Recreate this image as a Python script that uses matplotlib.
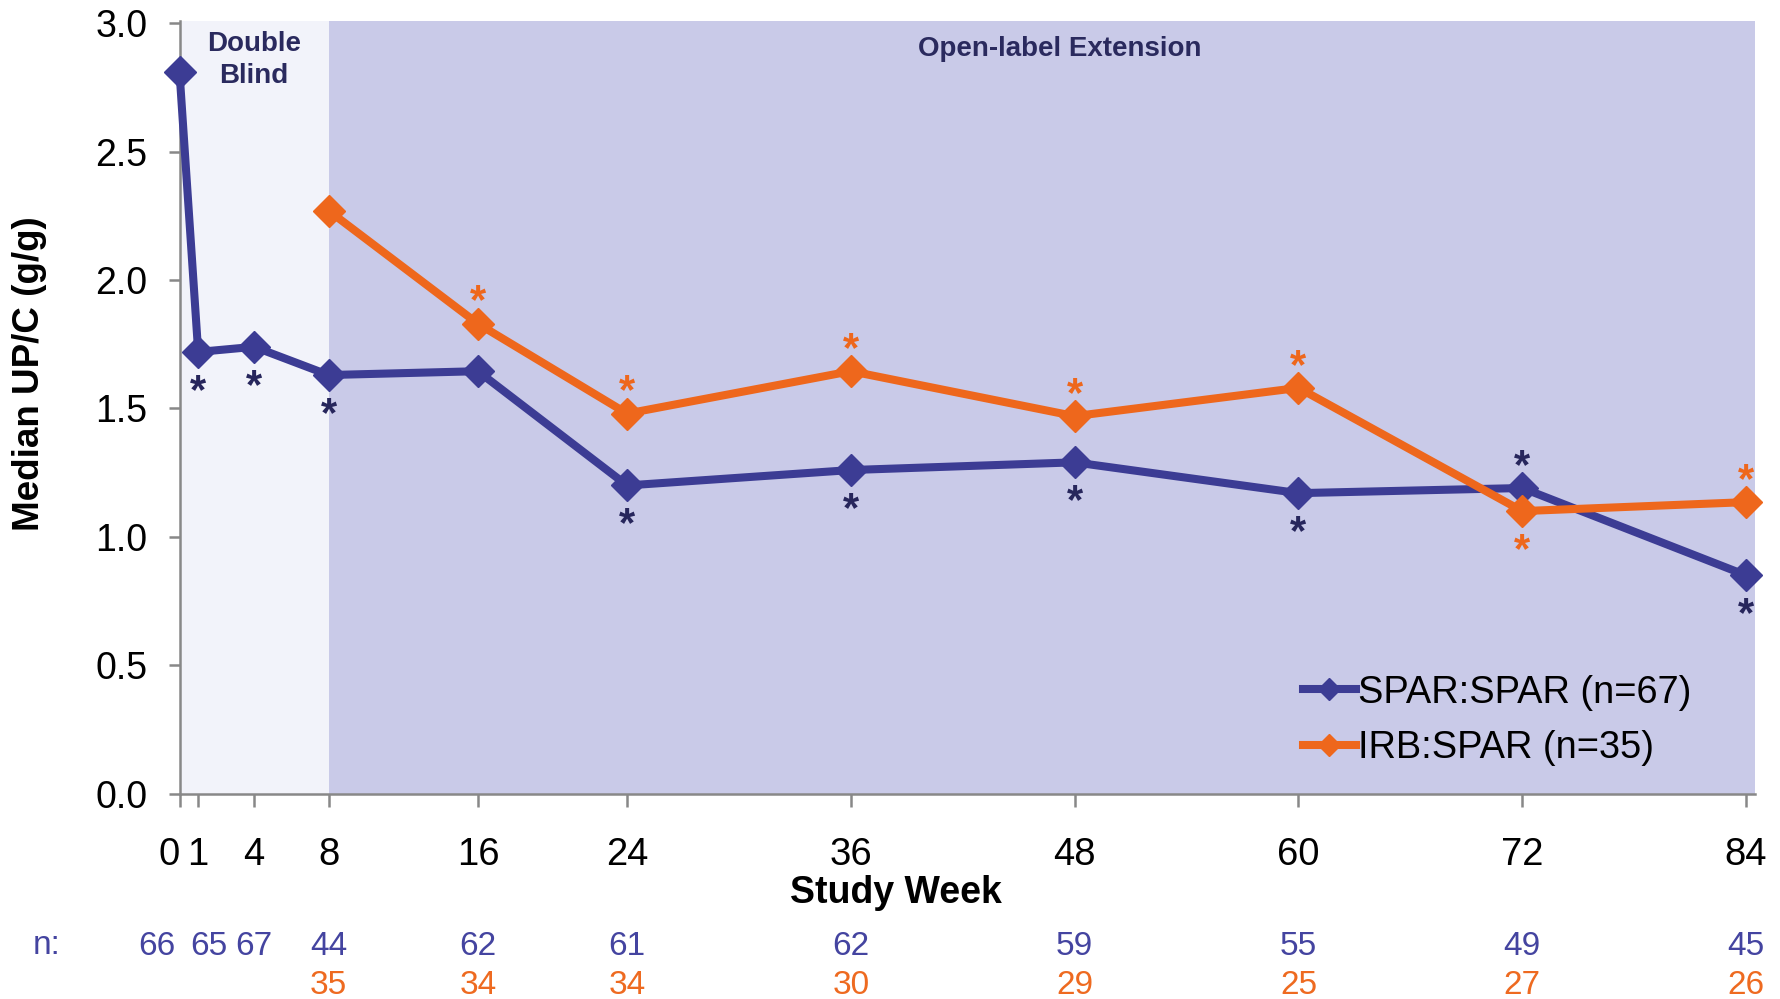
import matplotlib
matplotlib.use("Agg")
import matplotlib.pyplot as plt

plt.rcParams['font.family'] = ['Liberation Sans', 'DejaVu Sans']

# study weeks and median UP/C for each arm
weeks = [0, 1, 4, 8, 16, 24, 36, 48, 60, 72, 84]
spar_upc = [2.81, 1.72, 1.74, 1.63, 1.645, 1.20, 1.26, 1.29, 1.17, 1.19, 0.85]
irb_weeks = [8, 16, 24, 36, 48, 60, 72, 84]
irb_upc = [2.27, 1.83, 1.48, 1.645, 1.47, 1.58, 1.10, 1.135]

# significance marks: -1 below the point, 1 above, 0 none
spar_stars = [0, -1, -1, -1, 0, -1, -1, -1, -1, 1, -1]
irb_stars = [0, 1, 1, 1, 1, 1, -1, 1]

# patients per visit
spar_n = [66, 65, 67, 44, 62, 61, 62, 59, 55, 49, 45]
irb_n = [35, 34, 34, 30, 29, 25, 27, 26]

tick_labels = ['0', '1', '4', '8', '16', '24', '36', '48', '60', '72', '84']

blue = '#3c3c94'
orange = '#ee671c'
navy = '#27265c'

fig = plt.figure(figsize=(17.81, 9.99), dpi=100)
ax = fig.add_axes([0.1008, 0.2057, 0.8846, 0.7735])

ax.axvspan(0, 8, color='#f2f3fa', zorder=0, lw=0)
ax.axvspan(8, 84.48, color='#c9cae8', zorder=0, lw=0)

ax.plot(weeks, spar_upc, color=blue, lw=5.8, marker='D', ms=16,
        label='SPAR:SPAR (n=67)', zorder=3, clip_on=False)
ax.plot(irb_weeks, irb_upc, color=orange, lw=5.8, marker='D', ms=16,
        label='IRB:SPAR (n=35)', zorder=3, clip_on=False)

def stars(xs, ys, sides, color):
    for x, y, s in zip(xs, ys, sides):
        if s == 0:
            continue
        dy = 22 * s - 6.7
        ax.annotate('*', (x, y), xytext=(0, dy), textcoords='offset points',
                    ha='center', va='center', fontsize=30, fontweight='bold',
                    color=color, zorder=4)

stars(weeks, spar_upc, spar_stars, navy)
stars(irb_weeks, irb_upc, irb_stars, orange)

ax.set_xlim(0, 84.48)
ax.set_ylim(0, 3.01)
ax.set_yticks([0, 0.5, 1.0, 1.5, 2.0, 2.5, 3.0])
ax.set_yticklabels(['0.0', '0.5', '1.0', '1.5', '2.0', '2.5', '3.0'])
ax.set_xticks(weeks)
ax.set_xticklabels(tick_labels)
ax.get_xticklabels()[0].set_ha('right')

for side in ['top', 'right']:
    ax.spines[side].set_visible(False)
for side in ['left', 'bottom']:
    ax.spines[side].set_color('#888888')
    ax.spines[side].set_linewidth(1.8)
ax.tick_params(axis='y', length=8, width=1.8, color='#888888', labelsize=27, pad=15)
ax.tick_params(axis='x', length=9, width=1.8, color='#888888', labelsize=27.5, pad=22)

ax.text(-0.095, 0.543, 'Median UP/C (g/g)', transform=ax.transAxes, rotation=90,
        ha='center', va='center', fontsize=26.5, fontweight='bold')
ax.text(0.455, -0.129, 'Study Week', transform=ax.transAxes,
        ha='center', va='center', fontsize=27, fontweight='bold')

ax.text(4, 2.858, 'Double\nBlind', ha='center', va='center', fontsize=20,
        fontweight='bold', color='#2a2a5e', linespacing=1.3)
ax.text(47.2, 2.90, 'Open-label Extension', ha='center', va='center', fontsize=20,
        fontweight='bold', color='#2a2a5e')

# n rows under the axis
trans = ax.get_xaxis_transform()
nudge = {0: -16, 1: 8}
for i, (x, n) in enumerate(zip(weeks, spar_n)):
    ax.annotate(str(n), (x, -0.198), xycoords=trans, xytext=(nudge.get(i, 0), 0),
                textcoords='offset points', ha='center', va='center',
                fontsize=24, color='#4444a0', annotation_clip=False)
for x, n in zip(irb_weeks, irb_n):
    ax.annotate(str(n), (x, -0.249), xycoords=trans, ha='center', va='center',
                fontsize=24, color='#ee6a20', annotation_clip=False)
fig.text(0.026, 1 - 946 / 999, 'n:', ha='center', va='center', fontsize=24,
         color='#4444a0')

ax.legend(loc='center left', bbox_to_anchor=(0.713, 0.0946), frameon=False,
          fontsize=27.4, handlelength=1.4, handletextpad=0.05,
          labelspacing=0.52, borderpad=0, borderaxespad=0, markerscale=0.7)

fig.savefig('out.png', dpi=100)
